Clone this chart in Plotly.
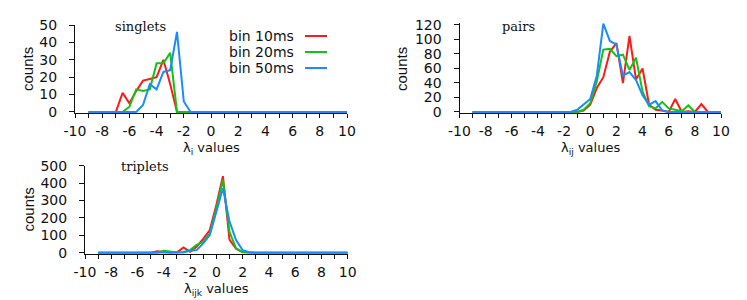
import plotly.graph_objects as go

# ---- data ----
lam = [-9.0, -8.5, -8.0, -7.5, -7.0, -6.5, -6.0, -5.5, -5.0, -4.5, -4.0, -3.5, -3.0,
       -2.5, -2.0, -1.5, -1.0, -0.5, 0.0, 0.5, 1.0, 1.5, 2.0, 2.5, 3.0, 3.5, 4.0,
       4.5, 5.0, 5.5, 6.0, 6.5, 7.0, 7.5, 8.0, 8.5, 9.0, 9.5, 10.0]

series_names = ["bin 10ms", "bin 20ms", "bin 50ms"]

singlets_10 = [0, 0, 0, 0, 0, 11, 5, 12, 18, 19, 20, 30, 16,
               0, 0, 0, 0, 0, 0, 0, 0, 0, 0, 0, 0, 0, 0,
               0, 0, 0, 0, 0, 0, 0, 0, 0, 0, 0, 0]
singlets_20 = [0, 0, 0, 0, 0, 0, 3, 13, 12, 13, 28, 28, 34,
               0, 0, 0, 0, 0, 0, 0, 0, 0, 0, 0, 0, 0, 0,
               0, 0, 0, 0, 0, 0, 0, 0, 0, 0, 0, 0]
singlets_50 = [0, 0, 0, 0, 0, 0, 0, 0, 4, 16, 13, 23, 24,
               46, 6, 0, 0, 0, 0, 0, 0, 0, 0, 0, 0, 0, 0,
               0, 0, 0, 0, 0, 0, 0, 0, 0, 0, 0, 0]

pairs_10 = [0, 0, 0, 0, 0, 0, 0, 0, 0, 0, 0, 0, 1,
            0, 1, 0, 0, 2, 10, 33, 48, 83, 95, 40, 105, 45, 60,
            10, 3, 2, 0, 18, 0, 1, 0, 11, 0, 0, 0]
pairs_20 = [0, 0, 0, 0, 0, 0, 0, 0, 0, 0, 0, 0, 0,
            0, 0, 0, 0, 3, 12, 42, 86, 87, 77, 79, 58, 75, 28,
            8, 5, 14, 5, 3, 1, 9, 0, 0, 0, 0, 0]
pairs_50 = [0, 0, 0, 0, 0, 0, 0, 0, 0, 0, 0, 0, 0,
            0, 0, 0, 3, 10, 18, 50, 122, 98, 93, 50, 55, 44, 23,
            10, 15, 2, 0, 0, 0, 0, 0, 0, 0, 0, 0]

triplets_10 = [0, 0, 0, 0, 0, 0, 0, 0, 0, 8, 2, 0, 3,
               31, 5, 35, 80, 130, 274, 440, 75, 23, 3, 0, 0, 0, 0,
               0, 0, 0, 0, 0, 0, 0, 0, 0, 0, 0, 0]
triplets_20 = [0, 0, 0, 0, 0, 0, 0, 0, 0, 0, 12, 8, 2,
               5, 15, 45, 63, 111, 255, 418, 120, 25, 4, 0, 0, 0, 0,
               0, 0, 0, 0, 0, 0, 0, 0, 0, 0, 0, 0]
triplets_50 = [0, 0, 0, 0, 0, 0, 0, 0, 0, 0, 0, 0, 0,
               2, 12, 15, 54, 102, 236, 370, 180, 73, 15, 3, 0, 0, 0,
               0, 0, 0, 0, 0, 0, 0, 0, 0, 0, 0, 0]

x_tickvals = [-10, -8, -6, -4, -2, 0, 2, 4, 6, 8, 10]
x_ticktext = ["-10", "-8", "-6", "-4", "-2", "0", "2", "4", "6", "8", "10"]

panel_titles = ["singlets", "pairs", "triplets"]
x_titles = ["λ<sub>i</sub> values", "λ<sub>ij</sub> values", "λ<sub>ijk</sub> values"]

# ---- styling ----
W, H = 747, 300
colors = ["#ff1a1a", "#14c214", "#1a8cff"]
SANS = "DejaVu Sans"
SERIF = "DejaVu Serif"


def px(x):
    return x / W


def py(y):
    return 1 - y / H


fig = go.Figure()

panels = [
    # (series, xaxis id, yaxis id, x-domain px, y-domain px, y range, y dtick)
    ([singlets_10, singlets_20, singlets_50], "x", "y", (75, 347), (113, 25), [-0.6, 50], 10),
    ([pairs_10, pairs_20, pairs_50], "x2", "y2", (459.5, 721), (113, 22.8), [-1.4, 123], 20),
    ([triplets_10, triplets_20, triplets_50], "x3", "y3", (85, 347.7), (253.8, 165.7), [-6, 500], 100),
]

for series, xa, ya, xd, yd, yr, ydt in panels:
    for name, vals, c in zip(series_names, series, colors):
        fig.add_trace(go.Scatter(x=lam, y=vals, mode="lines", name=name,
                                 line=dict(color=c, width=2), xaxis=xa, yaxis=ya,
                                 showlegend=False, hoverinfo="skip"))

axis_font = dict(family=SANS, size=14, color="#111")
layout = dict(width=W, height=H, margin=dict(l=0, r=0, t=0, b=0, autoexpand=False),
              paper_bgcolor="white", plot_bgcolor="white", showlegend=False)

for i, (series, xa, ya, xd, yd, yr, ydt) in enumerate(panels):
    xkey = "xaxis" if i == 0 else f"xaxis{i+1}"
    ykey = "yaxis" if i == 0 else f"yaxis{i+1}"
    layout[xkey] = dict(domain=[px(xd[0]), px(xd[1])], range=[-10, 10], anchor=ya,
                        tickmode="array", tickvals=x_tickvals, ticktext=x_ticktext,
                        ticks="outside", ticklen=4, tickwidth=1, tickcolor="#111",
                        minor=dict(dtick=1, tick0=-10, ticks="outside", ticklen=4,
                                   tickcolor="#111", showgrid=False),
                        showline=True, linecolor="#111", linewidth=1, automargin=False,
                        showgrid=False, zeroline=False, tickfont=axis_font,
                        ticklabelstandoff=1)
    layout[ykey] = dict(domain=[py(yd[0]), py(yd[1])], range=yr, anchor=xa,
                        tickmode="linear", tick0=0, dtick=ydt,
                        ticks="outside", ticklen=5, tickwidth=1, tickcolor="#111",
                        showline=True, linecolor="#111", linewidth=1, automargin=False,
                        showgrid=False, zeroline=False, tickfont=axis_font,
                        ticklabelstandoff=9)

fig.update_layout(**layout)

annotations = []
# panel titles
for t, (x, y) in zip(panel_titles, [(140, 26), (518, 26), (145, 166)]):
    annotations.append(dict(text=t, x=px(x), y=py(y), xref="paper", yref="paper",
                            showarrow=False, xanchor="center", yanchor="middle",
                            font=dict(family=SERIF, size=13, color="#111")))
# y titles
for (x, y) in [(27, 69), (401, 69), (27.5, 210)]:
    annotations.append(dict(text="counts", x=px(x), y=py(y), xref="paper", yref="paper",
                            showarrow=False, textangle=-90, xanchor="center", yanchor="middle",
                            font=dict(family="Liberation Sans", size=15, color="#111")))
# x titles
for t, (x, y) in zip(x_titles, [(211, 149), (590, 149), (216, 289)]):
    annotations.append(dict(text=t, x=px(x), y=py(y), xref="paper", yref="paper",
                            showarrow=False, xanchor="center", yanchor="middle",
                            font=dict(family=SANS, size=13, color="#111")))
# legend (text left of line sample)
shapes = []
for name, c, y in zip(series_names, colors, [36, 52, 68]):
    annotations.append(dict(text=name, x=px(296), y=py(y), xref="paper", yref="paper",
                            showarrow=False, xanchor="right", yanchor="middle",
                            font=dict(family=SANS, size=14, color="#111")))
    shapes.append(dict(type="line", xref="paper", yref="paper",
                       x0=px(305), x1=px(327), y0=py(y), y1=py(y),
                       line=dict(color=c, width=2)))

fig.update_layout(annotations=annotations, shapes=shapes)

fig.write_html("out.html", config={"displayModeBar": False},
               post_script="document.body.style.margin='0';document.body.style.padding='0';")
